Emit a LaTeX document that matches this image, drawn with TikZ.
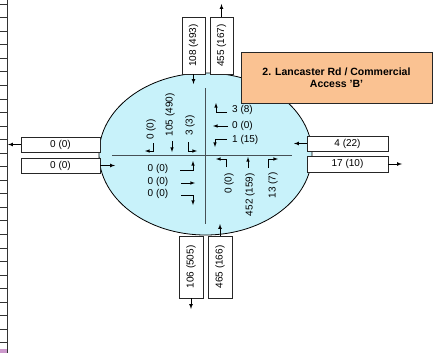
\documentclass[tikz,border=0pt]{standalone}
\usepackage{fontspec}
\setmainfont{Liberation Sans}
\usetikzlibrary{arrows}

\definecolor{isect}{RGB}{200,242,250}
\definecolor{titleorange}{RGB}{250,194,146}
\definecolor{crossgray}{RGB}{70,80,85}

\tikzset{
  volbox/.style={draw=black!85, fill=white, line width=0.7pt, inner sep=0pt, font=\fontsize{10}{11}\selectfont},
  legbox/.style={volbox, rotate=90},
  flow/.style={-latex, line width=0.7pt},
  turn/.style={-latex, line width=0.6pt},
  vol/.style={inner sep=0pt, font=\fontsize{10}{11}\selectfont},
}

\begin{document}
\begin{tikzpicture}[x=1pt,y=-1pt]
        \useasboundingbox (0,0) rectangle (433,353);

        % Spreadsheet edge on the left
        \draw[black!80, line width=0.7pt] (7,0) -- (7,353);
        \foreach \k in {0,...,25} {
            \draw[black!80, line width=0.7pt] (0,{4+13.55*\k}) -- (7,{4+13.55*\k});
        }
        \fill[violet!40] (0,349) rectangle (7,353);

        % Intersection
        \draw[line width=0.8pt, fill=isect] (205.5,154) ellipse (106.5 and 81);
        \draw[crossgray, line width=0.9pt] (205.7,88) -- (205.7,224);
        \draw[crossgray, line width=0.9pt] (112,155.3) -- (292,155.3);

        % Leg volume boxes
        \node[legbox, minimum width=57, minimum height=23] (nIn)  at (193.5,45.5) {108 (493)};
        \node[legbox, minimum width=57, minimum height=23] (nOut) at (221.5,45.5) {455 (167)};
        \node[legbox, minimum width=62, minimum height=24] (sOut) at (191,267) {106 (505)};
        \node[legbox, minimum width=62, minimum height=24] (sIn)  at (220,267) {465 (166)};
        \node[volbox, minimum width=79, minimum height=15] (wOut) at (60.5,144.5) {0 (0)};
        \node[volbox, minimum width=79, minimum height=15] (wIn)  at (60.5,165.5) {0 (0)};
        \node[volbox, minimum width=81, minimum height=15] (eIn)  at (347.5,143.5) {4 (22)};
        \node[volbox, minimum width=81, minimum height=16] (eOut) at (347.5,164) {17 (10)};

        % Arrow ends
        \coordinate (nInTip)  at (193.5,84);
        \coordinate (nOutTip) at (221.5,4);
        \coordinate (sOutTip) at (191,309);
        \coordinate (sInTip)  at (220,224);
        \coordinate (wOutTip) at (8,144.5);
        \coordinate (wInTip)  at (115,165.5);
        \coordinate (eInTip)  at (294,143.5);
        \coordinate (eOutTip) at (402,164);

        \draw[flow] (nIn.west) -- (nInTip);
        \draw[flow] (nOut.east) -- (nOutTip);
        \draw[flow] (sOut.west) -- (sOutTip);
        \draw[flow] (sIn.east) -- (sInTip);
        \draw[flow] (wOut.west) -- (wOutTip);
        \draw[flow] (wIn.east) -- (wInTip);
        \draw[flow] (eIn.west) -- (eInTip);
        \draw[flow] (eOut.east) -- (eOutTip);

        % North approach
        \node[vol, rotate=90, anchor=west] (nR) at (151,140) {0 (0)};
        \node[vol, rotate=90, anchor=west] (nT) at (170,136.5) {105 (490)};
        \node[vol, rotate=90, anchor=west] (nL) at (190,136) {3 (3)};
        \draw[turn] (153,143) -- (153,151) -- (145,151);
        \draw[turn] (172,141) -- (172,152);
        \draw[turn] (188,142) -- (188,151) -- (197,151);

        % East approach
        \node[vol, anchor=west] (eL) at (232,110) {3 (8)};
        \node[vol, anchor=west] (eT) at (232,125.5) {0 (0)};
        \node[vol, anchor=west] (eR) at (232,139.5) {1 (15)};
        \draw[turn] (227,112) -- (216,112) -- (216,103);
        \draw[turn] (228,126) -- (213,126);
        \draw[turn] (227,139) -- (215,139) -- (215,147);

        % West approach
        \node[vol] (wL) at (158,169) {0 (0)};
        \node[vol] (wT) at (158,181.5) {0 (0)};
        \node[vol] (wR) at (158,194) {0 (0)};
        \draw[turn] (180,170) -- (193,170) -- (193,161);
        \draw[turn] (181,183) -- (195,183);
        \draw[turn] (181,195) -- (193,195) -- (193,205);

        % South approach
        \node[vol, rotate=90, anchor=east] (sL) at (229,173) {0 (0)};
        \node[vol, rotate=90, anchor=east] (sT) at (250,173) {452 (159)};
        \node[vol, rotate=90, anchor=east] (sR) at (273,172) {13 (7)};
        \draw[turn] (226,167) -- (226,159) -- (216,159);
        \draw[turn] (248,168) -- (248,157);
        \draw[turn] (268,168) -- (268,159) -- (278,159);

        % Title
        \node[draw=black!85, fill=titleorange, line width=0.8pt, minimum width=191, minimum height=51,
              align=center, font=\fontsize{10.5}{12.5}\selectfont\bfseries] (title) at (336.5,77.5)
            {2. Lancaster Rd / Commercial\\Access 'B'};
    \end{tikzpicture}
\end{document}
